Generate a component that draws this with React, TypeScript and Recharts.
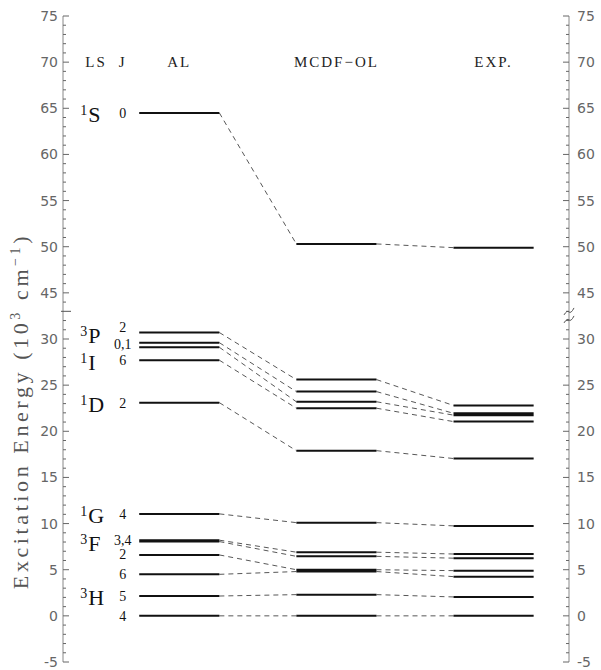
import React from 'react';
import { ComposedChart, Line, Scatter, XAxis, YAxis, Label } from 'recharts';

// energy levels in 10^3 cm^-1, same state order in every column
const COLUMNS = ['AL', 'MCDF\u2212OL', 'EXP.'];
const AL = [64.5, 30.7, 29.6, 29.1, 27.7, 23.1, 11.05, 8.2, 8.05, 6.6, 4.5, 2.15, 0];
const MCDF = [50.3, 25.6, 24.3, 23.2, 22.5, 17.9, 10.1, 6.9, 6.45, 5.0, 4.8, 2.3, 0];
const EXP = [49.9, 22.8, 21.95, 21.75, 21.05, 17.05, 9.75, 6.7, 6.25, 4.9, 4.25, 2.05, 0];

// LS term labels: [superscript, letter, energy where it sits]
const TERMS: [string, string, number][] = [
  ['1', 'S', 64.5],
  ['3', 'P', 30.5],
  ['1', 'I', 27.6],
  ['1', 'D', 23.1],
  ['1', 'G', 11.0],
  ['3', 'F', 8.0],
  ['3', 'H', 2.1],
];
// J labels
const J_TEXT = ['0', '2', '0,1', '6', '2', '4', '3,4', '2', '6', '5', '4'];
const J_ENERGY = [64.5, 31.3, 29.4, 27.7, 23.1, 11.05, 8.2, 6.7, 4.5, 2.15, 0];

const Y_TICK_LABELS = [-5, 0, 5, 10, 15, 20, 25, 30, 45, 50, 55, 60, 65, 70, 75];
const HEADER_ENERGY = 70;

// broken axis: 30..45 squeezed into one 5-unit step
const toAxis = (e: number) => (e > 40 ? e - 10 : e);
const BREAK_POS = 33;
const SQUIGGLE_POS = 32.5;

const HALF = 0.255;
const TERM_X = 0.37;
const J_X = 0.64;
const LS_X = 0.47;

const columns = [AL, MCDF, EXP];

const levelData: { x: number; y: number | null }[] = [];
columns.forEach((col, c) => {
  col.forEach((e) => {
    const cx = c + 1;
    levelData.push({ x: cx - HALF, y: toAxis(e) }, { x: cx + HALF, y: toAxis(e) }, { x: cx + HALF, y: null });
  });
});

const linkData: { x: number; y: number | null }[] = [];
for (let c = 0; c < columns.length - 1; c++) {
  columns[c].forEach((e, i) => {
    const e2 = columns[c + 1][i];
    linkData.push({ x: c + 1 + HALF, y: toAxis(e) }, { x: c + 2 - HALF, y: toAxis(e2) }, { x: c + 2 - HALF, y: null });
  });
}

const headerData = [
  { x: LS_X, y: toAxis(HEADER_ENERGY), text: 'LS' },
  { x: J_X, y: toAxis(HEADER_ENERGY), text: 'J' },
  ...COLUMNS.map((t, i) => ({ x: i + 1, y: toAxis(HEADER_ENERGY), text: t })),
];
const termData = TERMS.map(([sup, letter, e]) => ({ x: TERM_X, y: toAxis(e), sup, letter }));
const jData = J_TEXT.map((t, i) => ({ x: J_X, y: toAxis(J_ENERGY[i]), text: t }));

const labelAt = new Map(Y_TICK_LABELS.map((l) => [toAxis(l), l]));
const tickPositions: number[] = [];
for (let t = toAxis(Y_TICK_LABELS[0]); t <= toAxis(Y_TICK_LABELS[Y_TICK_LABELS.length - 1]); t++) tickPositions.push(t);
tickPositions.push(SQUIGGLE_POS);

const SERIF = '"Liberation Serif", "DejaVu Serif", serif';
const SANS = '"DejaVu Sans", sans-serif';
const X_DOMAIN = [0.26, 3.48];

function AxisTick(props: any) {
  const { x, y, payload, side } = props;
  const v = payload.value;
  const dir = side === 'left' ? 1 : -1;
  if (v === SQUIGGLE_POS) {
    if (side === 'left') return null;
    return (
      <g stroke="#555" fill="none" strokeWidth={1}>
        <path d={`M ${x - 5} ${y - 1} q 3 -5 5 -3 t 5 -4`} />
        <path d={`M ${x - 5} ${y + 7} q 3 -5 5 -3 t 5 -4`} />
      </g>
    );
  }
  if (v === BREAK_POS && side === 'left') {
    return <line x1={x - 2} x2={x + 8} y1={y} y2={y} stroke="#555" />;
  }
  const lab = labelAt.get(v);
  const major = lab !== undefined;
  const len = major ? 6 : 3;
  return (
    <g>
      <line x1={x} x2={x + dir * len} y1={y} y2={y} stroke="#666" strokeWidth={1} />
      {major && (
        <text
          x={side === 'left' ? x - 5 : x + 8}
          y={y}
          dy="0.36em"
          textAnchor={side === 'left' ? 'end' : 'start'}
          fontSize={14}
          fontFamily={SANS}
          fill="#666"
        >
          {lab}
        </text>
      )}
    </g>
  );
}

function HeaderText(p: any) {
  return (
    <text x={p.cx} y={p.cy} dy="0.35em" textAnchor="middle" fontSize={15} fontFamily={SERIF} fill="#222" letterSpacing={2}>
      {p.payload.text}
    </text>
  );
}

function TermText(p: any) {
  return (
    <text x={p.cx} y={p.cy} fontFamily={SERIF} fill="#111">
      <tspan fontSize={14} dy={2}>{p.payload.sup}</tspan>
      <tspan fontSize={22} dx={1} dy={7}>{p.payload.letter}</tspan>
    </text>
  );
}

function JText(p: any) {
  return (
    <text x={p.cx} y={p.cy} dy="0.35em" textAnchor="middle" fontSize={14} fontFamily={SERIF} fill="#111">
      {p.payload.text}
    </text>
  );
}

function AxisTitle() {
  return (
    <text
      x={20}
      y={411}
      transform="rotate(-90, 20, 411)"
      textAnchor="middle"
      dy="0.35em"
      fontFamily={SERIF}
      fontSize={22}
      fill="#555"
      letterSpacing={3.6}
    >
      Excitation Energy (10
      <tspan fontSize={14} dy={-8}>3</tspan>
      <tspan dy={8}> cm</tspan>
      <tspan fontSize={14} dy={-8}>{'\u22121'}</tspan>
      <tspan dy={8}>)</tspan>
    </text>
  );
}

export default function App() {
  return (
    <div style={{ position: 'absolute', left: 0, top: 0, background: '#fff' }}>
      <ComposedChart width={601} height={670} margin={{ top: 16, right: 0, bottom: 8, left: 0 }}>
        <XAxis dataKey="x" type="number" domain={X_DOMAIN} tick={false} height={0} axisLine={{ stroke: '#888' }} tickLine={false} />
        <XAxis xAxisId="top" orientation="top" dataKey="x" type="number" domain={X_DOMAIN} tick={false} height={0} axisLine={{ stroke: '#888' }} tickLine={false} />
        <YAxis
          yAxisId="left"
          dataKey="y"
          type="number"
          domain={[-5, 65]}
          ticks={tickPositions}
          interval={0}
          width={63}
          tickSize={0}
          tickMargin={0}
          tickLine={false}
          axisLine={{ stroke: '#888' }}
          tick={<AxisTick side="left" />}
        >
          <Label content={<AxisTitle />} />
        </YAxis>
        <YAxis
          yAxisId="right"
          orientation="right"
          dataKey="y"
          type="number"
          domain={[-5, 65]}
          ticks={tickPositions}
          interval={0}
          width={32}
          tickSize={0}
          tickMargin={0}
          tickLine={false}
          axisLine={{ stroke: '#888' }}
          tick={<AxisTick side="right" />}
        />
        <Line yAxisId="left" data={linkData} dataKey="y" stroke="#444" strokeWidth={0.9} strokeDasharray="5 4" dot={false} activeDot={false} isAnimationActive={false} />
        <Line yAxisId="left" data={levelData} dataKey="y" stroke="#111" strokeWidth={2} dot={false} activeDot={false} isAnimationActive={false} />
        <Scatter xAxisId="top" yAxisId="right" data={headerData} dataKey="y" shape={<HeaderText />} isAnimationActive={false} />
        <Scatter yAxisId="left" data={termData} dataKey="y" shape={<TermText />} isAnimationActive={false} />
        <Scatter yAxisId="left" data={jData} dataKey="y" shape={<JText />} isAnimationActive={false} />
      </ComposedChart>
    </div>
  );
}
